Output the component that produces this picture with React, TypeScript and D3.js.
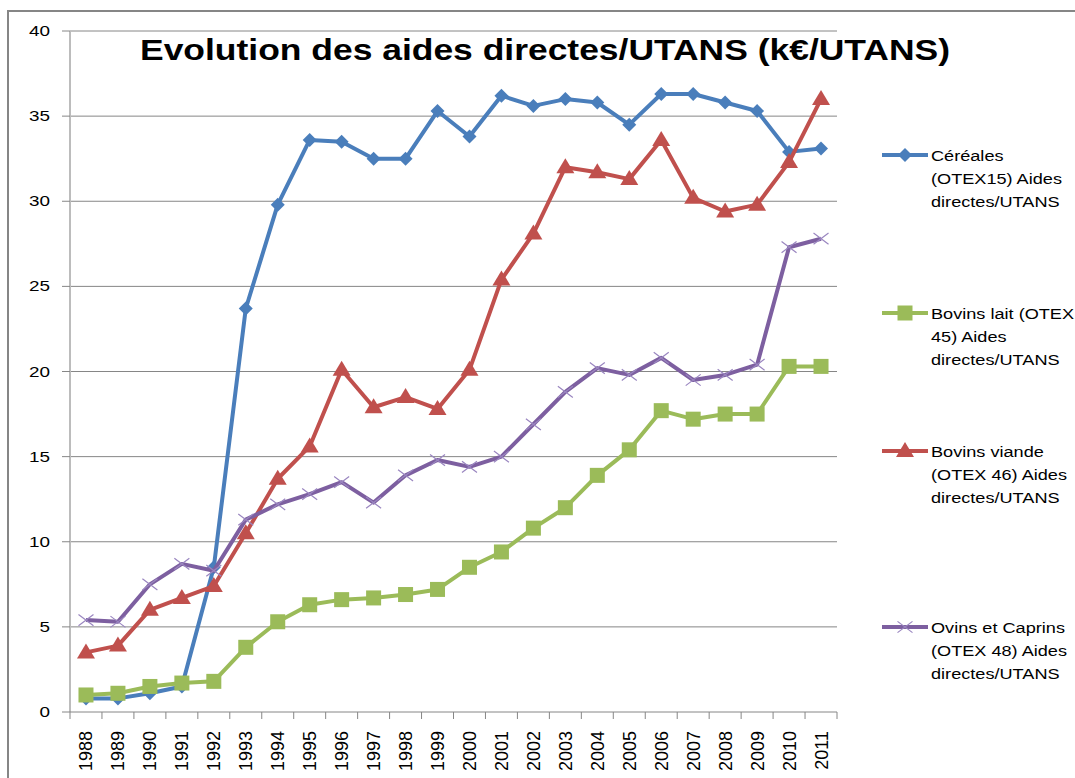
import React from "react";
import * as d3 from "d3";

const years = [
  "1988", "1989", "1990", "1991", "1992", "1993", "1994", "1995", "1996", "1997", "1998", "1999",
  "2000", "2001", "2002", "2003", "2004", "2005", "2006", "2007", "2008", "2009", "2010", "2011",
];

const cereales = [0.8, 0.8, 1.1, 1.5, 8.5, 23.7, 29.8, 33.6, 33.5, 32.5, 32.5, 35.3, 33.8, 36.2, 35.6, 36.0, 35.8, 34.5, 36.3, 36.3, 35.8, 35.3, 32.9, 33.1];
const bovinsLait = [1.0, 1.1, 1.5, 1.7, 1.8, 3.8, 5.3, 6.3, 6.6, 6.7, 6.9, 7.2, 8.5, 9.4, 10.8, 12.0, 13.9, 15.4, 17.7, 17.2, 17.5, 17.5, 20.3, 20.3];
const bovinsViande = [3.5, 3.9, 6.0, 6.7, 7.4, 10.5, 13.7, 15.6, 20.1, 17.9, 18.5, 17.8, 20.1, 25.4, 28.1, 32.0, 31.7, 31.3, 33.6, 30.2, 29.4, 29.8, 32.3, 36.0];
const ovins = [5.4, 5.3, 7.5, 8.7, 8.3, 11.3, 12.2, 12.8, 13.5, 12.3, 13.9, 14.8, 14.4, 15.0, 16.9, 18.8, 20.2, 19.8, 20.8, 19.5, 19.8, 20.4, 27.3, 27.8];

const yTicks = [0, 5, 10, 15, 20, 25, 30, 35, 40];

const title = "Evolution des aides directes/UTANS (k€/UTANS)";

type Marker = "diamond" | "square" | "triangle" | "x";

const series: { name: string[]; values: number[]; color: string; marker: Marker }[] = [
  { name: ["Céréales", "(OTEX15) Aides", "directes/UTANS"], values: cereales, color: "#4a7ebb", marker: "diamond" },
  { name: ["Bovins lait (OTEX", "45) Aides", "directes/UTANS"], values: bovinsLait, color: "#9bbb59", marker: "square" },
  { name: ["Bovins viande", "(OTEX 46) Aides", "directes/UTANS"], values: bovinsViande, color: "#c0504d", marker: "triangle" },
  { name: ["Ovins et Caprins", "(OTEX 48) Aides", "directes/UTANS"], values: ovins, color: "#7d5fa0", marker: "x" },
];

const legendY = [155, 313, 451, 627];

const FONT = "'Liberation Sans', Arial, sans-serif";

function MarkerShape({ type, x, y, color }: { type: Marker; x: number; y: number; color: string }) {
  if (type === "diamond") {
    const r = 7;
    return <path d={`M${x},${y - r}L${x + r},${y}L${x},${y + r}L${x - r},${y}Z`} fill={color} />;
  }
  if (type === "square") {
    const s = 15;
    return <rect x={x - s / 2} y={y - s / 2} width={s} height={s} fill={color} />;
  }
  if (type === "triangle") {
    const w = 9, h = 15;
    return <path d={`M${x},${y - h * 0.6}L${x + w},${y + h * 0.4}L${x - w},${y + h * 0.4}Z`} fill={color} />;
  }
  const r = 7.5;
  return (
    <path
      d={`M${x - r},${y - r * 0.75}L${x + r},${y + r * 0.75}M${x - r},${y + r * 0.75}L${x + r},${y - r * 0.75}`}
      stroke="#9a86c0"
      strokeWidth={1.2}
      fill="none"
    />
  );
}

export default function App() {
  const left = 70;
  const right = 837;
  const top = 31;
  const bottom = 712;

  const x = d3.scaleBand<string>().domain(years).range([left, right]).paddingInner(0).paddingOuter(0);
  const cx = (yr: string) => (x(yr) ?? 0) + x.bandwidth() / 2;
  const y = d3.scaleLinear().domain([0, 40]).range([bottom, top]);

  const line = d3
    .line<number>()
    .x((_, i) => cx(years[i]))
    .y((v) => y(v));

  const boundaries = years.map((yr) => x(yr) ?? 0).concat([right]);

  return (
    <svg width={1075} height={778} style={{ position: "absolute", left: 0, top: 0, background: "#fff" }}>
      <rect x={8} y={11} width={1200} height={900} fill="#fff" stroke="#868686" strokeWidth={2} />

      {/* gridlines */}
      {yTicks.filter((t) => t > 0).map((t) => (
        <line key={t} x1={left} x2={right} y1={y(t)} y2={y(t)} stroke="#868686" strokeWidth={1} />
      ))}

      {/* y axis */}
      <line x1={left} x2={left} y1={top} y2={bottom} stroke="#bcbcbc" strokeWidth={2} />
      {yTicks.map((t) => (
        <g key={t}>
          <line x1={62} x2={left} y1={y(t)} y2={y(t)} stroke="#868686" strokeWidth={1} />
          <text
            transform={`translate(50,${y(t) + 5}) scale(1.35,1)`}
            textAnchor="end"
            fontFamily={FONT}
            fontSize={14}
            fill="#000"
          >
            {t}
          </text>
        </g>
      ))}

      {/* x axis */}
      <line x1={left} x2={right} y1={bottom} y2={bottom} stroke="#868686" strokeWidth={1} />
      {boundaries.map((b, i) => (
        <line key={i} x1={b} x2={b} y1={bottom} y2={bottom + 7} stroke="#868686" strokeWidth={1} />
      ))}
      {years.map((yr) => (
        <text
          key={yr}
          transform={`translate(${cx(yr) + 6.5},731) rotate(-90)`}
          textAnchor="end"
          fontFamily={FONT}
          fontSize={18}
          fill="#000"
        >
          {yr}
        </text>
      ))}

      {/* series */}
      {series.map((s) => (
        <g key={s.name[0]}>
          <path d={line(s.values) ?? ""} fill="none" stroke={s.color} strokeWidth={4} strokeLinejoin="round" />
          {s.values.map((v, i) => (
            <MarkerShape key={i} type={s.marker} x={cx(years[i])} y={y(v)} color={s.color} />
          ))}
        </g>
      ))}

      {/* title */}
      <text
        x={140}
        y={60}
        fontFamily={FONT}
        fontWeight="bold"
        fontSize={30}
        textLength={810}
        lengthAdjust="spacingAndGlyphs"
        fill="#000"
      >
        {title}
      </text>

      {/* legend */}
      {series.map((s, k) => {
        const ly = legendY[k];
        return (
          <g key={s.name[0]}>
            <line x1={882} x2={928} y1={ly} y2={ly} stroke={s.color} strokeWidth={4} />
            <MarkerShape type={s.marker} x={905} y={ly} color={s.color} />
            {s.name.map((ln, j) => (
              <text
                key={j}
                transform={`translate(931,${ly + 6 + j * 23}) scale(1.17,1)`}
                fontFamily={FONT}
                fontSize={15.5}
                fill="#000"
              >
                {ln}
              </text>
            ))}
          </g>
        );
      })}
    </svg>
  );
}
